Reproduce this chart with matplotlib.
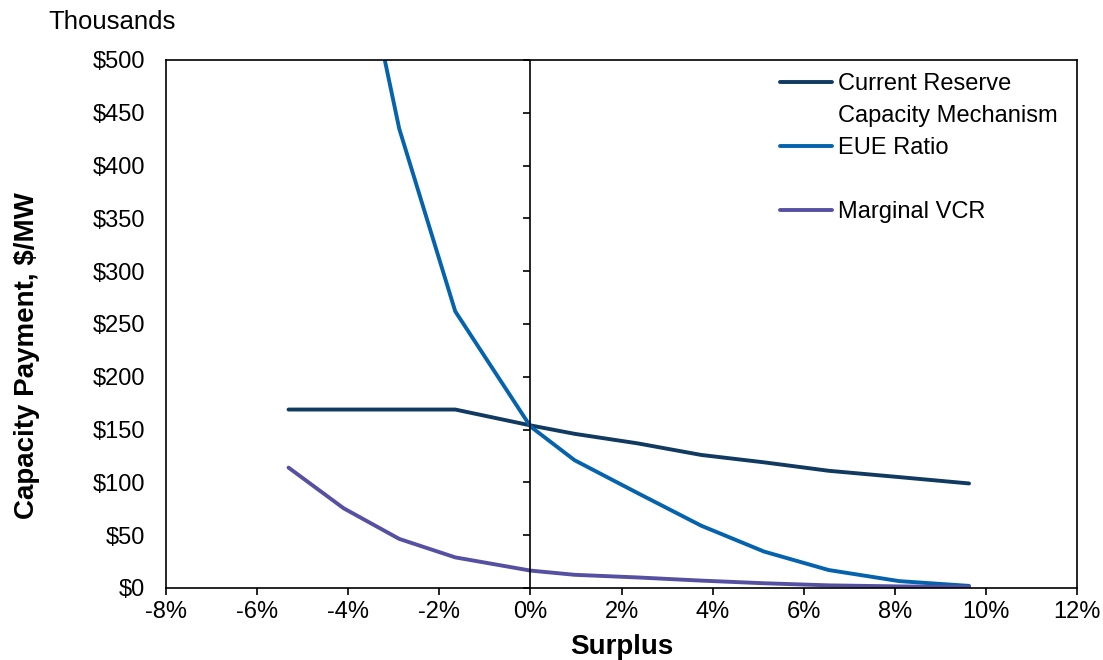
import matplotlib
matplotlib.use('Agg')
import matplotlib.pyplot as plt
from matplotlib.lines import Line2D
from matplotlib.ticker import FuncFormatter

plt.rcParams['font.family'] = ['Liberation Sans', 'DejaVu Sans']

# surplus (%) at each point
surplus = [-5.31, -4.10, -2.88, -1.65, 0.0, 0.97, 2.35, 3.75, 5.13, 6.55, 8.10, 9.63]
# capacity payment, $ thousands / MW
rcm = [169, 169, 169, 169, 154, 146, 137, 126, 119, 111, 105, 99]
eue = [1080, 685, 435, 262, 153, 121, 90, 59, 34.5, 17, 6.5, 2]
vcr = [114, 75.5, 46.5, 29, 16.5, 12.5, 10, 7, 4.5, 2.5, 1.5, 1]

x_ticks = [-8, -6, -4, -2, 0, 2, 4, 6, 8, 10, 12]
y_ticks = [0, 50, 100, 150, 200, 250, 300, 350, 400, 450, 500]

c_rcm = '#113A60'
c_eue = '#0563AD'
c_vcr = '#5650A3'

fig = plt.figure(figsize=(11.03, 6.6), dpi=100)
ax = fig.add_axes([166 / 1103, 1 - 588 / 660, 911 / 1103, 528 / 660])

l_rcm, = ax.plot(surplus, rcm, color=c_rcm, lw=2.8, solid_capstyle='round')
l_eue, = ax.plot(surplus, eue, color=c_eue, lw=2.8, solid_capstyle='round')
l_vcr, = ax.plot(surplus, vcr, color=c_vcr, lw=2.8, solid_capstyle='round')

ax.set_xlim(-8, 12)
ax.set_ylim(0, 500)
ax.set_xticks(x_ticks)
ax.set_yticks(y_ticks)
ax.xaxis.set_major_formatter(FuncFormatter(lambda v, p: f'{v:.0f}%'))
ax.yaxis.set_major_formatter(FuncFormatter(lambda v, p: f'\\${v:.0f}'))
ax.tick_params(axis='x', direction='out', length=5, width=1.2, labelsize=17, pad=4)
ax.tick_params(axis='y', length=0, labelsize=17, pad=15)
for s in ax.spines.values():
    s.set_linewidth(1.2)

# vertical axis crossing at 0% with its own ticks
ax.axvline(0, color='black', lw=1.2)
sec = ax.secondary_yaxis(0.4)
sec.set_yticks(y_ticks)
sec.yaxis.set_ticks_position('left')
sec.tick_params(axis='y', direction='out', length=5, width=1.2, labelleft=False, labelright=False)
sec.spines['left'].set_visible(False)
sec.spines['right'].set_visible(False)

ax.set_xlabel('Surplus', fontsize=20, fontweight='bold', labelpad=8)
ax.set_ylabel('Capacity Payment, \\$/MW', fontsize=20, fontweight='bold')
ax.yaxis.set_label_coords(-0.138, 0.44)

fig.text(48 / 1103, 1 - 22 / 660, 'Thousands', fontsize=18.5, va='center', ha='left')

blank = Line2D([], [], color='none')
leg = ax.legend([l_rcm, blank, l_eue, blank, l_vcr],
                ['Current Reserve', 'Capacity Mechanism', 'EUE Ratio', ' ', 'Marginal VCR'],
                loc='upper left', bbox_to_anchor=(0.674, 0.975), frameon=False,
                fontsize=17, handlelength=2.2, handletextpad=0.25,
                labelspacing=0.42, borderpad=0, borderaxespad=0)

fig.savefig('out.png', dpi=100)
